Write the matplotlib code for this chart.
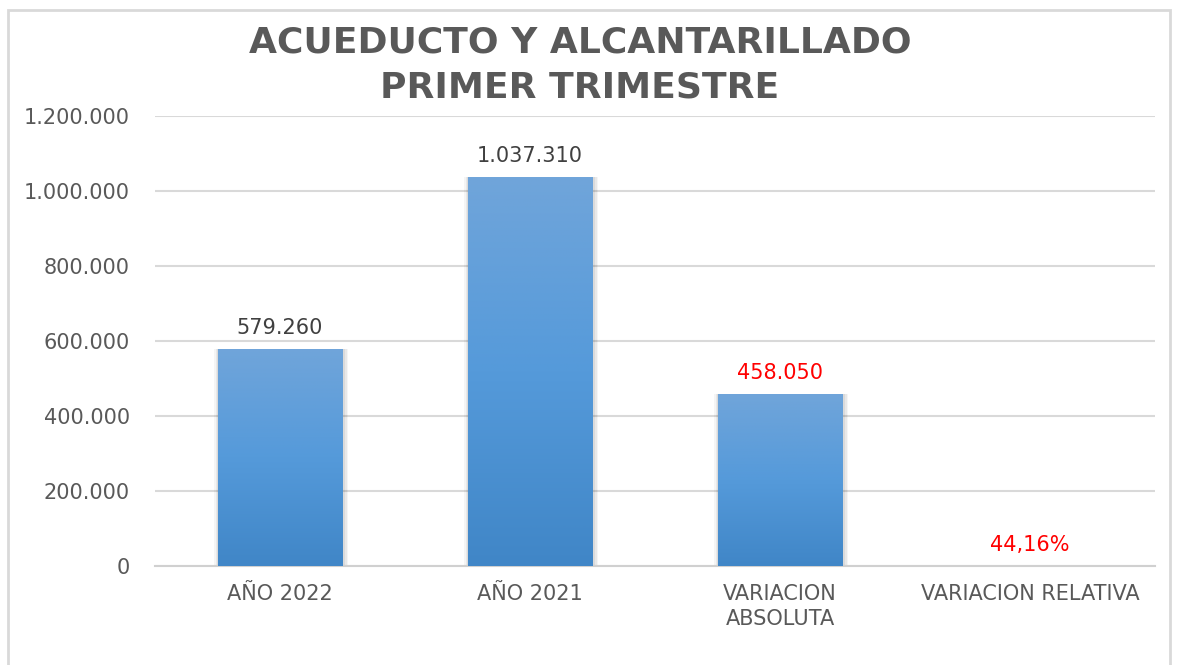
import numpy as np
import matplotlib
matplotlib.use("Agg")
import matplotlib.pyplot as plt
from matplotlib.patches import Rectangle
from matplotlib.colors import LinearSegmentedColormap

# Datos
categorias = ["AÑO 2022", "AÑO 2021", "VARIACION\nABSOLUTA", "VARIACION RELATIVA"]
valores = [579260, 1037310, 458050, 0.4416]
etiquetas = ["579.260", "1.037.310", "458.050", "44,16%"]
colores_etiqueta = ["#404040", "#404040", "#ff0000", "#ff0000"]
yticks = [0, 200000, 400000, 600000, 800000, 1000000, 1200000]
ytick_labels = ["0", "200.000", "400.000", "600.000", "800.000", "1.000.000", "1.200.000"]

fig = plt.figure(figsize=(11.77, 6.65), dpi=100)
ax = fig.add_axes([155 / 1177, 1 - 566 / 665, 1000 / 1177, 450 / 665])

# marco del grafico
fig.patches.append(Rectangle((8 / 1177, -0.02), 1162 / 1177, 1.02 - 10 / 665,
                             transform=fig.transFigure, fill=False,
                             edgecolor="#d9d9d9", linewidth=2))

x = np.arange(len(categorias))
ancho = 0.5

# sombra suave
for k, a in enumerate([0.06, 0.05, 0.04]):
    ax.bar(x + 0.004, valores, width=ancho + 0.012 * (k + 1), color="#000000",
           alpha=a, zorder=2, linewidth=0)

barras = ax.bar(x, valores, width=ancho, color="#5b9bd5", zorder=3, linewidth=0)

# degradado en cada barra
cmap = LinearSegmentedColormap.from_list("azul", ["#4086c7", "#559ada", "#70a5da"])
grad = np.linspace(0, 1, 256).reshape(-1, 1)
for b in barras:
    x0, y0 = b.get_x(), b.get_y()
    w, h = b.get_width(), b.get_height()
    if h <= 0:
        continue
    im = ax.imshow(grad, cmap=cmap, origin="lower", aspect="auto",
                   extent=[x0, x0 + w, y0, y0 + h], zorder=4)
    im.set_clip_path(b)

# etiquetas de datos
for xi, v, t, c in zip(x, valores, etiquetas, colores_etiqueta):
    ax.annotate(t, (xi, v), xytext=(0, 8), textcoords="offset points",
                ha="center", va="bottom", fontsize=15, color=c)

ax.set_xlim(-0.5, 3.5)
ax.set_ylim(0, 1200000)
ax.set_yticks(yticks)
ax.set_yticklabels(ytick_labels, fontsize=15, color="#595959")
ax.set_xticks(x)
ax.set_xticklabels(categorias, fontsize=15, color="#595959", linespacing=1.3)
ax.tick_params(axis="both", length=0)
ax.tick_params(axis="y", pad=18)
ax.tick_params(axis="x", pad=13)

ax.grid(axis="y", color="#d9d9d9", linewidth=1.5, zorder=0)
ax.set_axisbelow(True)
for s in ["top", "right", "left"]:
    ax.spines[s].set_visible(False)
ax.spines["bottom"].set_color("#d0d0d0")
ax.spines["bottom"].set_linewidth(1.5)

fig.text(580 / 1177, 1 - 65 / 665, "ACUEDUCTO Y ALCANTARILLADO\nPRIMER TRIMESTRE",
         ha="center", va="center", fontsize=26, fontweight="bold",
         color="#595959", linespacing=1.38)

fig.savefig("out.png", dpi=100)
